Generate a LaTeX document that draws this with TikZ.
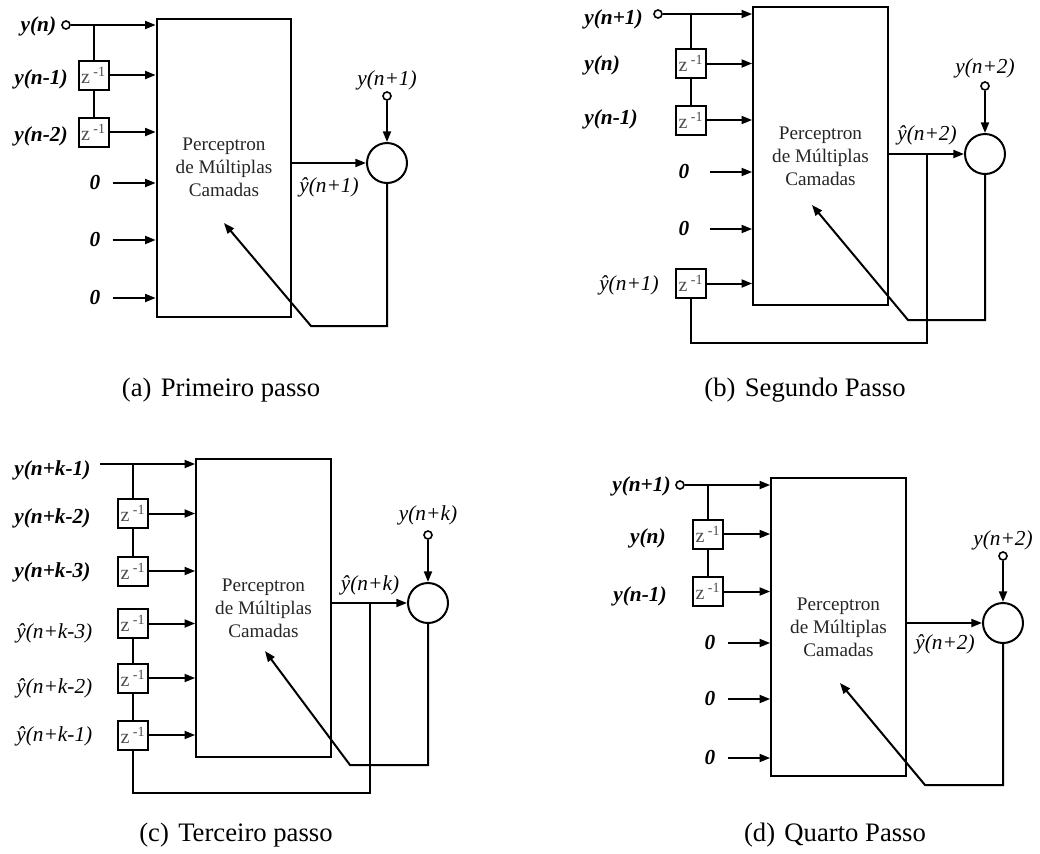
\documentclass[tikz,border=0pt]{standalone}
\usepackage{fontspec}
\setmainfont{Liberation Serif}
\usetikzlibrary{positioning,arrows.meta}

\begin{document}
\begin{tikzpicture}[x=0.75pt, y=-0.75pt, line width=1.5pt,
>={Triangle[length=8pt,width=6pt]},
mlp/.style={draw, minimum width=101pt, minimum height=223.5pt, align=center, text=black!85, font=\fontsize{14.4}{17.3}\selectfont},
zbox/.style={draw, minimum width=22.5pt, minimum height=21.75pt, inner sep=0pt, text=black!70, font=\fontsize{15}{15}\selectfont},
sumnode/.style={circle, draw, minimum size=30pt, inner sep=0pt},
term/.style={circle, draw, line width=1.2pt, minimum size=6pt, inner sep=0pt},
ylab/.style={font=\fontsize{16}{16}\selectfont\bfseries\itshape, inner sep=1pt},
hatlab/.style={font=\fontsize{16}{16}\selectfont\itshape, inner sep=1pt},
caplab/.style={font=\fontsize{20}{20}\selectfont}
]
\useasboundingbox (0,0) rectangle (1040,854);

%Nodes (a)
\node[mlp] (MLPa) at (224,167.5) {Perceptron\\de Múltiplas\\Camadas};
\node[term] (Ta) at (66,25) {};
\node[ylab, anchor=east] (La0) at (58.5,26) {y(n)};
\node[zbox] (Za1) at (93.5,75) {z\,\textsuperscript{-1}};
\node[zbox] (Za2) at (93.5,132) {z\,\textsuperscript{-1}};
\node[ylab, anchor=east] (La1) at (70,79) {y(n-1)};
\node[ylab, anchor=east] (La2) at (70,136) {y(n-2)};
\node[ylab] (Oa1) at (95,183) {0};
\node[ylab] (Oa2) at (95,240) {0};
\node[ylab] (Oa3) at (95,298) {0};
\node[sumnode] (Sa) at (387,163) {};
\node[term] (Ra) at (387,96) {};
\node[hatlab] (La3) at (387,80) {y(n+1)};
\node[hatlab] (La4) at (329,187) {ŷ(n+1)};
\coordinate (Ba) at (Za1.north |- Ta);
\coordinate (Fa) at (311,326);
\coordinate (Ea) at (224,223);
\node[caplab] (Ca) at (221,390) {(a)\hspace{0.35em}Primeiro passo};

%Lines (a)
\draw[->] (Ta) -- (Ta -| MLPa.west);
\draw (Ba) -- (Za1.north);
\draw (Za1.south) -- (Za2.north);
\draw[->] (Za1.east) -- (Za1.east -| MLPa.west);
\draw[->] (Za2.east) -- (Za2.east -| MLPa.west);
\draw[->] ([xshift=7.5pt]Oa1.east) -- (Oa1 -| MLPa.west);
\draw[->] ([xshift=7.5pt]Oa2.east) -- (Oa2 -| MLPa.west);
\draw[->] ([xshift=7.5pt]Oa3.east) -- (Oa3 -| MLPa.west);
\draw[->] (Ra) -- (Sa);
\draw[->] (Sa.west -| MLPa.east) -- (Sa.west);
\draw[->] (Sa.south) |- (Fa) -- (Ea);

%Nodes (b)
\node[mlp] (MLPb) at (820.5,156) {Perceptron\\de Múltiplas\\Camadas};
\node[term] (Tb) at (658,14) {};
\node[ylab, anchor=west] (Lb0) at (582,19) {y(n+1)};
\node[zbox] (Zb1) at (691,63.5) {z\,\textsuperscript{-1}};
\node[zbox] (Zb2) at (691,120) {z\,\textsuperscript{-1}};
\node[ylab, anchor=west] (Lb1) at (582,65) {y(n)};
\node[ylab, anchor=west] (Lb2) at (582,119) {y(n-1)};
\node[ylab] (Ob1) at (684,172) {0};
\node[ylab] (Ob2) at (684,229) {0};
\node[zbox] (Zb3) at (691,283.5) {z\,\textsuperscript{-1}};
\node[hatlab, anchor=east] (Lb3) at (661,285) {ŷ(n+1)};
\node[sumnode] (Sb) at (985,154) {};
\node[term] (Rb) at (985,86) {};
\node[hatlab] (Lb4) at (985,68) {y(n+2)};
\node[hatlab] (Lb5) at (927,135) {ŷ(n+2)};
\coordinate (Bb) at (Zb1.north |- Tb);
\coordinate (Db) at (927,154);
\coordinate (Gb) at (927,343);
\coordinate (Fb) at (908,320);
\coordinate (Eb) at (812,205);
\node[caplab] (Cb) at (805,390) {(b)\hspace{0.35em}Segundo Passo};

%Lines (b)
\draw[->] (Tb) -- (Tb -| MLPb.west);
\draw (Bb) -- (Zb1.north);
\draw (Zb1.south) -- (Zb2.north);
\draw[->] (Zb1.east) -- (Zb1.east -| MLPb.west);
\draw[->] (Zb2.east) -- (Zb2.east -| MLPb.west);
\draw[->] ([xshift=14pt]Ob1.east) -- (Ob1 -| MLPb.west);
\draw[->] ([xshift=14pt]Ob2.east) -- (Ob2 -| MLPb.west);
\draw[->] (Zb3.east) -- (Zb3.east -| MLPb.west);
\draw[->] (Rb) -- (Sb);
\draw[->] (Sb.west -| MLPb.east) -- (Sb.west);
\draw (Db) -- (Gb) -| (Zb3.south);
\draw[->] (Sb.south) |- (Fb) -- (Eb);

%Nodes (c)
\node[mlp] (MLPc) at (263.5,608) {Perceptron\\de Múltiplas\\Camadas};
\coordinate (Tc) at (100,464);
\node[ylab, anchor=west] (Lc0) at (12,470) {y(n+k-1)};
\node[zbox] (Zc1) at (133,513.5) {z\,\textsuperscript{-1}};
\node[zbox] (Zc2) at (133,571) {z\,\textsuperscript{-1}};
\node[zbox] (Zc3) at (133,623.5) {z\,\textsuperscript{-1}};
\node[zbox] (Zc4) at (133,678) {z\,\textsuperscript{-1}};
\node[zbox] (Zc5) at (133,735) {z\,\textsuperscript{-1}};
\node[ylab, anchor=west] (Lc1) at (12,518) {y(n+k-2)};
\node[ylab, anchor=west] (Lc2) at (12,572) {y(n+k-3)};
\node[hatlab, anchor=west] (Lc3) at (14,633) {ŷ(n+k-3)};
\node[hatlab, anchor=west] (Lc4) at (14,688) {ŷ(n+k-2)};
\node[hatlab, anchor=west] (Lc5) at (14,736) {ŷ(n+k-1)};
\node[sumnode] (Sc) at (428,603) {};
\node[term] (Rc) at (428,535) {};
\node[hatlab] (Lc6) at (428,515) {y(n+k)};
\node[hatlab] (Lc7) at (370,585) {ŷ(n+k)};
\coordinate (Bc) at (Zc1.north |- Tc);
\coordinate (Dc) at (370,603);
\coordinate (Gc) at (370,793);
\coordinate (Fc) at (350,765);
\coordinate (Ec) at (265,651);
\node[caplab] (Cc) at (236,835) {(c)\hspace{0.35em}Terceiro passo};

%Lines (c)
\draw[->] (Tc) -- (Tc -| MLPc.west);
\draw (Bc) -- (Zc1.north);
\draw (Zc1.south) -- (Zc2.north);
\draw (Zc3.south) -- (Zc4.north);
\draw (Zc4.south) -- (Zc5.north);
\draw[->] (Zc1.east) -- (Zc1.east -| MLPc.west);
\draw[->] (Zc2.east) -- (Zc2.east -| MLPc.west);
\draw[->] (Zc3.east) -- (Zc3.east -| MLPc.west);
\draw[->] (Zc4.east) -- (Zc4.east -| MLPc.west);
\draw[->] (Zc5.east) -- (Zc5.east -| MLPc.west);
\draw[->] (Rc) -- (Sc);
\draw[->] (Sc.west -| MLPc.east) -- (Sc.west);
\draw (Dc) -- (Gc) -| (Zc5.south);
\draw[->] (Sc.south) |- (Fc) -- (Ec);

%Nodes (d)
\node[mlp] (MLPd) at (838.5,627) {Perceptron\\de Múltiplas\\Camadas};
\node[term] (Td) at (680,485) {};
\node[ylab, anchor=east] (Ld0) at (673,486) {y(n+1)};
\node[zbox] (Zd1) at (708,534) {z\,\textsuperscript{-1}};
\node[zbox] (Zd2) at (708,591.5) {z\,\textsuperscript{-1}};
\node[ylab, anchor=east] (Ld1) at (668,538) {y(n)};
\node[ylab, anchor=east] (Ld2) at (669,596) {y(n-1)};
\node[ylab] (Od1) at (710,643) {0};
\node[ylab] (Od2) at (710,699) {0};
\node[ylab] (Od3) at (710,758) {0};
\node[sumnode] (Sd) at (1003,623) {};
\node[term] (Rd) at (1003,556) {};
\node[hatlab] (Ld3) at (1003,540) {y(n+2)};
\node[hatlab] (Ld4) at (945,644) {ŷ(n+2)};
\coordinate (Bd) at (Zd1.north |- Td);
\coordinate (Fd) at (925,785);
\coordinate (Ed) at (840,683);
\node[caplab] (Cd) at (835,835) {(d)\hspace{0.35em}Quarto Passo};

%Lines (d)
\draw[->] (Td) -- (Td -| MLPd.west);
\draw (Bd) -- (Zd1.north);
\draw (Zd1.south) -- (Zd2.north);
\draw[->] (Zd1.east) -- (Zd1.east -| MLPd.west);
\draw[->] (Zd2.east) -- (Zd2.east -| MLPd.west);
\draw[->] ([xshift=7.5pt]Od1.east) -- (Od1 -| MLPd.west);
\draw[->] ([xshift=7.5pt]Od2.east) -- (Od2 -| MLPd.west);
\draw[->] ([xshift=7.5pt]Od3.east) -- (Od3 -| MLPd.west);
\draw[->] (Rd) -- (Sd);
\draw[->] (Sd.west -| MLPd.east) -- (Sd.west);
\draw[->] (Sd.south) |- (Fd) -- (Ed);
\end{tikzpicture}
\end{document}
